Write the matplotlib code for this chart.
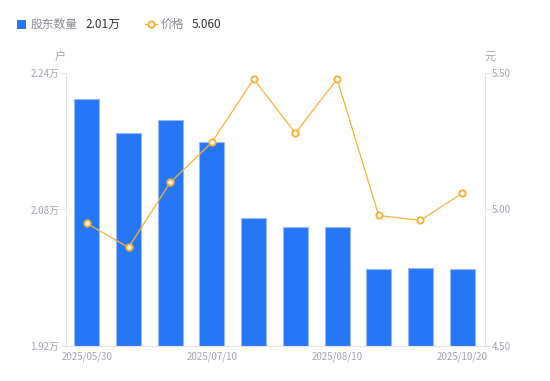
import matplotlib
matplotlib.use("Agg")
import matplotlib.pyplot as plt
from matplotlib.lines import Line2D

plt.rcParams['font.family'] = ['Noto Sans CJK SC', 'DejaVu Sans']

dates = ["2025/05/30", "2025/06/20", "2025/06/30", "2025/07/10", "2025/07/20",
         "2025/07/31", "2025/08/10", "2025/08/31", "2025/09/30", "2025/10/20"]
holders = [2.209, 2.170, 2.185, 2.159, 2.070, 2.059, 2.059, 2.010, 2.011, 2.010]  # 万户
price = [4.949, 4.861, 5.099, 5.246, 5.478, 5.280, 5.478, 4.978, 4.960, 5.060]
left_ticks = [1.92, 2.08, 2.24]
right_ticks = [4.50, 5.00, 5.50]
shown_idx = [0, 3, 6, 9]

BLUE = "#2776F5"
EDGE = "#93B9F7"
ORANGE = "#F7B23B"
GRAY = "#A3A3AF"
AXC = "#E3E3E6"

fig = plt.figure(figsize=(5.5, 3.81), dpi=100)
ax = fig.add_axes([0.12, 0.0919, 0.762, 0.7165])
x = list(range(len(dates)))
ax.bar(x, holders, width=0.6, color=BLUE, edgecolor=EDGE, linewidth=0.8, zorder=2)
ax.set_ylim(left_ticks[0], left_ticks[-1])
ax.set_xlim(-0.5, 9.55)
ax.set_yticks(left_ticks)
ax.set_yticklabels([f"{v:.2f}万" for v in left_ticks])
ax.set_xticks([x[i] for i in shown_idx])
ax.set_xticklabels([dates[i] for i in shown_idx])

ax2 = ax.twinx()
ax2.plot(x, price, color=ORANGE, linewidth=0.9, marker='o', markersize=4.5,
         markerfacecolor='white', markeredgecolor=ORANGE, markeredgewidth=1.4, zorder=3)
ax2.set_ylim(right_ticks[0], right_ticks[-1])
ax2.set_yticks(right_ticks)
ax2.set_yticklabels([f"{v:.2f}" for v in right_ticks])

for a in (ax, ax2):
    for s in a.spines.values():
        s.set_visible(False)
ax.spines['left'].set_visible(True)
ax.spines['left'].set_color(AXC)
ax.spines['bottom'].set_visible(True)
ax.spines['bottom'].set_color(AXC)
ax2.spines['right'].set_visible(True)
ax2.spines['right'].set_color(AXC)

ax.tick_params(axis='y', colors=AXC, labelcolor=GRAY, labelsize=7, length=4, width=0.8, pad=1)
ax.tick_params(axis='x', length=0, labelcolor=GRAY, labelsize=7, pad=4)
ax2.tick_params(axis='y', colors=AXC, labelcolor=GRAY, labelsize=7, length=4, width=0.8, pad=1)

fig.text(60/550, 1 - 57/381, "户", color=GRAY, fontsize=8, ha='center', va='center')
fig.text(490/550, 1 - 57/381, "元", color=GRAY, fontsize=8, ha='center', va='center')

# legend
fig.patches.append(plt.Rectangle((17/550, 1 - 29/381), 9/550, 9/381, transform=fig.transFigure,
                                 facecolor=BLUE, edgecolor='none'))
fig.text(31/550, 1 - 24/381, "股东数量", color="#8A8A96", fontsize=8.5, va='center')
fig.text(85/550, 1 - 24/381, f"{holders[-1]:.2f}万", color="#333333", fontsize=8.5, va='center')
fig.lines.append(Line2D([145/550, 157/550], [1 - 24/381, 1 - 24/381], transform=fig.transFigure,
                        color=ORANGE, linewidth=1, marker='o', markevery=[0], markersize=0))
fig.lines.append(Line2D([151/550], [1 - 24/381], transform=fig.transFigure, color=ORANGE,
                        marker='o', markersize=4.5, markerfacecolor='white', markeredgewidth=1.4))
fig.text(161/550, 1 - 24/381, "价格", color="#8A8A96", fontsize=8.5, va='center')
fig.text(192/550, 1 - 24/381, f"{price[-1]:.3f}", color="#333333", fontsize=8.5, va='center')

fig.savefig("out.png", dpi=100)
